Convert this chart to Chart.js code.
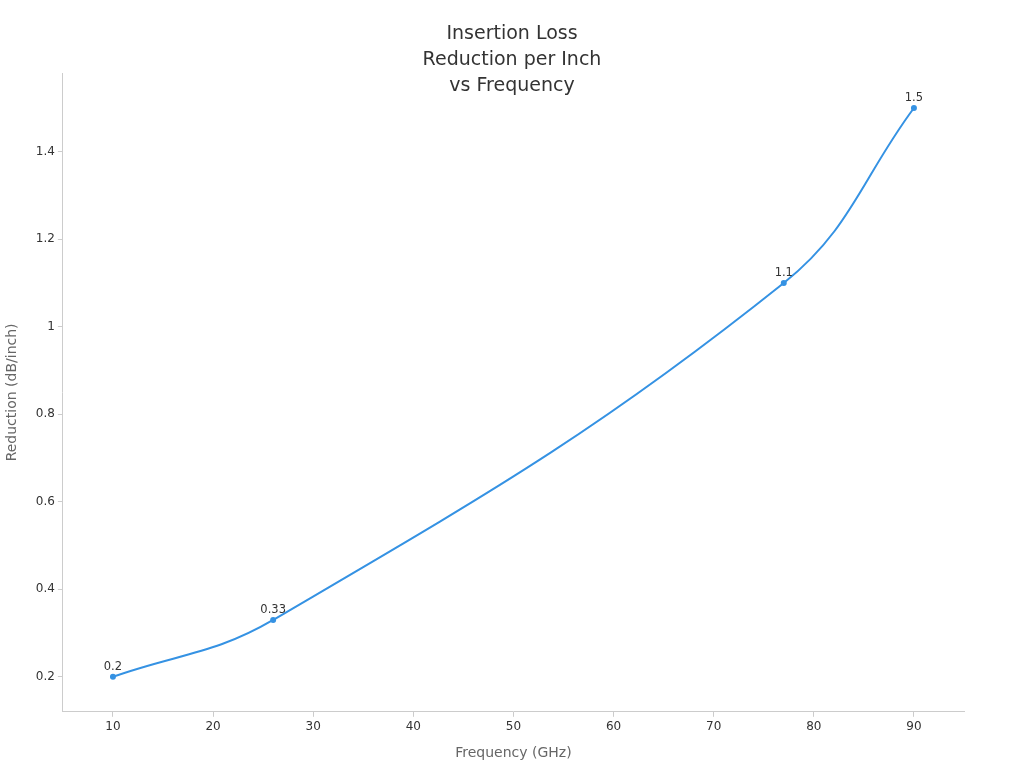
<!DOCTYPE html>
<html><head><meta charset="utf-8">
<script src="https://cdn.jsdelivr.net/npm/chart.js@4"></script>
<style>html,body{margin:0;padding:0;background:#fff}#w{width:1024px;height:768px}</style>
</head><body><div id="w"><canvas id="c"></canvas></div>
<script>
const frequencies = [10, 26, 77, 90];
const reductions = [0.2, 0.33, 1.1, 1.5];
const yTicks = [0.2, 0.4, 0.6, 0.8, 1, 1.2, 1.4];
const titleLines = ['Insertion Loss', 'Reduction per Inch', 'vs Frequency'];

const labelPlugin = {
  id: 'lbl',
  afterDatasetsDraw(chart) {
    const ctx = chart.ctx;
    const meta = chart.getDatasetMeta(0);
    ctx.save();
    ctx.font = '11.5px "DejaVu Sans"';
    ctx.fillStyle = '#333';
    ctx.textAlign = 'center';
    ctx.textBaseline = 'bottom';
    meta.data.forEach((p, i) => ctx.fillText(String(reductions[i]), p.x, p.y - 4));
    ctx.font = '19px "DejaVu Sans"';
    ctx.fillStyle = '#333';
    ctx.textBaseline = 'middle';
    titleLines.forEach((t, i) => ctx.fillText(t, chart.width / 2, 34 + i * 26));
    ctx.restore();
  }
};

new Chart(document.getElementById('c'), {
  type: 'line',
  data: { datasets: [{
    data: frequencies.map((f, i) => ({x: f, y: reductions[i]})),
    borderColor: '#3592e3', backgroundColor: '#3592e3',
    borderWidth: 2, pointRadius: 2, tension: 0.4
  }]},
  options: {
    responsive: true, maintainAspectRatio: false, animation: false,
    layout: { padding: { left: 0, right: 60, top: 73, bottom: 0 } },
    plugins: { legend: { display: false }, tooltip: { enabled: false }, title: { display: false } },
    scales: {
      x: { type: 'linear', min: 5, max: 95,
        afterBuildTicks: s => { s.ticks = [10,20,30,40,50,60,70,80,90].map(v => ({value: v})); },
        grid: { display: true, drawOnChartArea: false, tickLength: 5, color: '#ccc' }, border: { color: '#ccc' },
        ticks: { color: '#333', font: { family: 'DejaVu Sans', size: 12 } },
        title: { display: true, text: 'Frequency (GHz)', color: '#666', font: { family: 'DejaVu Sans', size: 14 }, padding: { top: 8, bottom: 6 } } },
      y: { min: 0.12, max: 1.58,
        afterBuildTicks: s => { s.ticks = yTicks.map(v => ({value: v})); },
        grid: { display: true, drawOnChartArea: false, tickLength: 5, color: '#ccc' }, border: { color: '#ccc' },
        ticks: { color: '#333', font: { family: 'DejaVu Sans', size: 12 }, callback: v => String(v) },
        title: { display: true, text: 'Reduction (dB/inch)', color: '#666', font: { family: 'DejaVu Sans', size: 14 }, padding: { bottom: 12 } } }
    }
  },
  plugins: [labelPlugin]
});
</script></body></html>
